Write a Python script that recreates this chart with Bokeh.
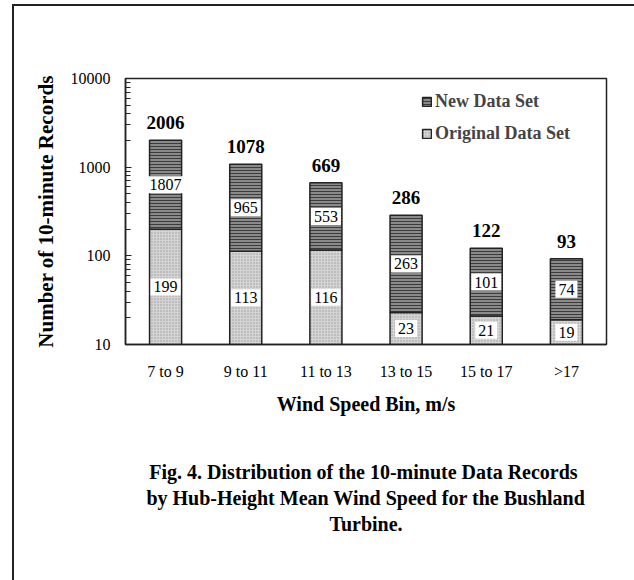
import math
from bokeh.plotting import figure
from bokeh.models import (ColumnDataSource, LabelSet, Title, FixedTicker,
                          PrintfTickFormatter, Legend, LegendItem)
from bokeh.core.properties import value
from bokeh.embed import file_html
from bokeh.resources import INLINE

# ---- data ----
categories = ["7 to 9", "9 to 11", "11 to 13", "13 to 15", "15 to 17", ">17"]
original = [199, 113, 116, 23, 21, 19]
new_data = [1807, 965, 553, 263, 101, 74]
totals = [o + n for o, n in zip(original, new_data)]
y_min, y_max = 10, 10000

SERIF = "Liberation Serif"
W, H = 634, 580

src = ColumnDataSource(dict(
    cat=categories,
    orig=original,
    new=new_data,
    total=totals,
    base=[y_min] * len(categories),
    orig_mid=[math.sqrt(y_min * o) for o in original],
    new_mid=[math.sqrt(o * t) for o, t in zip(original, totals)],
    orig_txt=[str(v) for v in original],
    new_txt=[str(v) for v in new_data],
    tot_txt=[str(v) for v in totals],
))

p = figure(x_range=categories, y_range=(y_min, y_max), y_axis_type="log",
           width=W, height=H, output_backend="svg", toolbar_location=None,
           min_border_left=125, min_border_right=28, min_border_top=78,
           min_border_bottom=236)
p.grid.visible = False
p.outline_line_color = "#222222"
p.outline_line_width = 1.5
p.background_fill_color = "white"
p.border_fill_alpha = 0
# page frame line (left and top edges) drawn as the element background
p.styles = {
    "background-color": "white",
    "background-image": "linear-gradient(#222, #222), linear-gradient(#222, #222)",
    "background-size": "2px 580px, 630px 2px",
    "background-position": "12px 4px, 12px 4px",
    "background-repeat": "no-repeat",
}

r_orig = p.vbar(x="cat", bottom="base", top="orig", width=0.4, source=src,
                fill_color="#d4d4d4", hatch_pattern="dot", hatch_color="#9a9a9a",
                hatch_scale=3, hatch_weight=1, line_color="#222222", line_width=1.5)
r_new = p.vbar(x="cat", bottom="orig", top="total", width=0.4, source=src,
               fill_color="#8a8a8a", hatch_pattern="horizontal_line", hatch_color="#3c3c3c",
               hatch_scale=3, hatch_weight=1, line_color="#222222", line_width=1.5)

for ycol, tcol in (("orig_mid", "orig_txt"), ("new_mid", "new_txt")):
    p.text(x="cat", y=ycol, text=tcol, source=src, text_font=value(SERIF),
           text_font_size="16px", text_align="center", text_baseline="middle",
           text_color="black", background_fill_color="white", padding=3)

p.add_layout(LabelSet(x="cat", y="total", text="tot_txt", text_baseline="bottom",
                      y_offset=11, text_font_size="19px", text_font_style="bold",
                      source=src, text_font=SERIF, text_align="center", text_color="black"))

legend = Legend(items=[LegendItem(label="New Data Set", renderers=[r_new]),
                       LegendItem(label="Original Data Set", renderers=[r_orig])],
                location=(296, 200))
legend.background_fill_alpha = 0
legend.border_line_alpha = 0
legend.label_text_font = SERIF
legend.label_text_font_style = "bold"
legend.label_text_font_size = "18px"
legend.glyph_width = 11
legend.glyph_height = 11
legend.label_height = 20
legend.spacing = 11
legend.padding = 0
legend.margin = 0
legend.label_standoff = 3
p.add_layout(legend)

# axes
p.yaxis.ticker = FixedTicker(ticks=[10, 100, 1000, 10000],
                             minor_ticks=[m * 10 ** k for k in range(1, 4) for m in range(2, 10)])
p.yaxis.formatter = PrintfTickFormatter(format="%d")
p.yaxis.major_tick_in = 6
p.yaxis.major_tick_out = 0
p.yaxis.minor_tick_in = 5
p.yaxis.minor_tick_out = 0
p.yaxis.major_label_standoff = 15
p.yaxis.axis_label = "Number of 10-minute Records"
p.yaxis.axis_label_standoff = 10
p.xaxis.axis_label = "Wind Speed Bin, m/s"
p.xaxis.major_label_standoff = 12
p.xaxis.axis_label_standoff = 10
for ax in (p.xaxis, p.yaxis):
    ax.axis_line_color = "#222222"
    ax.axis_line_width = 1.5
    ax.major_label_text_font = SERIF
    ax.major_label_text_font_size = "16px"
    ax.major_label_text_color = "black"
    ax.axis_label_text_font = SERIF
    ax.axis_label_text_font_style = "bold"
    ax.axis_label_text_color = "black"
p.yaxis.axis_label_text_font_size = "21px"
p.xaxis.axis_label_text_font_size = "20px"
p.yaxis.major_tick_line_color = "#222222"
p.yaxis.minor_tick_line_color = "#222222"
p.xaxis.major_tick_line_color = None
p.xaxis.minor_tick_line_color = None

# caption below the chart, one centred title per line (blank spacer first)
caption = ["Fig. 4.  Distribution of the 10-minute Data Records",
           "by Hub-Height Mean Wind Speed for the Bushland",
           "Turbine."]
p.add_layout(Title(text=" ", text_font=SERIF, text_font_size="20px", standoff=16), "below")
for line in caption:
    p.add_layout(Title(text=line, align="center", text_font=SERIF,
                       text_font_style="bold", text_font_size="20px",
                       text_color="black", standoff=2), "below")

open("out.html", "w").write(file_html(p, INLINE))
